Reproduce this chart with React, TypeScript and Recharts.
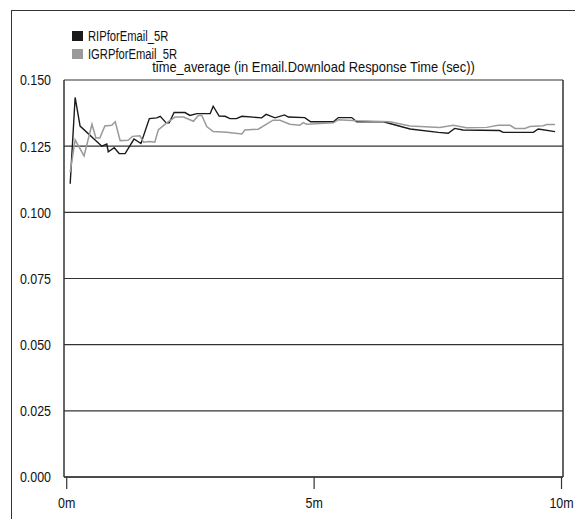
import React from 'react';
import { LineChart, Line, XAxis, YAxis, CartesianGrid, ReferenceLine } from 'recharts';

// time in minutes, response time in seconds
const ripMinutes = [
  0.07, 0.17, 0.27, 0.71, 0.81, 0.84, 0.96, 1.06, 1.18, 1.36, 1.5, 1.67, 1.82, 1.89, 2.01, 2.07, 2.17,
  2.39, 2.49, 2.63, 2.9, 2.96, 3.08, 3.2, 3.3, 3.43, 3.54, 3.94, 4.03, 4.21, 4.4, 4.48, 4.81, 4.93,
  5.39, 5.49, 5.76, 5.86, 6.4, 6.94, 7.51, 7.71, 7.84, 8.01, 8.75, 8.82, 9.43, 9.53, 9.87,
];
const ripSeconds = [
  0.1108, 0.1434, 0.1326, 0.125, 0.1258, 0.1229, 0.1244, 0.1222, 0.1222, 0.1277, 0.126, 0.1354, 0.1357,
  0.1363, 0.1338, 0.1338, 0.1377, 0.1377, 0.1366, 0.1373, 0.1373, 0.1401, 0.1364, 0.1363, 0.1354,
  0.1354, 0.1363, 0.1357, 0.137, 0.1357, 0.1368, 0.136, 0.1358, 0.1342, 0.1342, 0.1358, 0.1358,
  0.1342, 0.1342, 0.1315, 0.1302, 0.1299, 0.1317, 0.1311, 0.1309, 0.1302, 0.1302, 0.1315, 0.1305,
];

const igrpMinutes = [
  0.07, 0.17, 0.35, 0.51, 0.59, 0.67, 0.77, 0.91, 0.98, 1.08, 1.24, 1.33, 1.48, 1.55, 1.68, 1.78, 1.85,
  2.02, 2.19, 2.36, 2.56, 2.66, 2.73, 2.83, 2.96, 3.23, 3.54, 3.6, 3.87, 4.17, 4.31, 4.51, 4.71, 4.78,
  4.85, 5.39, 5.49, 5.86, 6.53, 6.94, 7.54, 7.81, 8.08, 8.49, 8.72, 8.96, 9.06, 9.26, 9.36, 9.63, 9.7,
  9.87,
];
const igrpSeconds = [
  0.1152, 0.1274, 0.1213, 0.1333, 0.1281, 0.1281, 0.1326, 0.1329, 0.1342, 0.1271, 0.1272, 0.1287,
  0.1289, 0.1265, 0.1268, 0.1265, 0.1311, 0.1338, 0.136, 0.136, 0.1344, 0.1366, 0.1366, 0.1324,
  0.1305, 0.1303, 0.1296, 0.1311, 0.1314, 0.1348, 0.1348, 0.1333, 0.1329, 0.1339, 0.1333, 0.1338,
  0.135, 0.1346, 0.1342, 0.1326, 0.1321, 0.1329, 0.132, 0.1321, 0.1329, 0.1329, 0.1317, 0.1317,
  0.1324, 0.1327, 0.1332, 0.1332,
];

const seriesNames = ['RIPforEmail_5R', 'IGRPforEmail_5R'];
const seriesColors = ['#1a1a1a', '#9a9a9a'];
const yTicks = [0, 0.025, 0.05, 0.075, 0.1, 0.125, 0.15];
const xTicks = [0, 5, 10];

const ripData = ripMinutes.map((t, i) => ({ t, v: ripSeconds[i] }));
const igrpData = igrpMinutes.map((t, i) => ({ t, v: igrpSeconds[i] }));

const FONT = '"Liberation Sans", Arial, sans-serif';
const X_MIN = -0.055;
const X_MAX = 10.03;

// the original uses a narrow face, so squeeze the regular one
const YTick = ({ x, y, payload }: any) => (
  <g transform={`translate(${x},${y})`}>
    <text transform="scale(0.83,1)" textAnchor="end" dy="0.36em" fontSize={15} fontFamily={FONT} fill="#111">
      {payload.value.toFixed(3)}
    </text>
  </g>
);

const XTick = ({ x, y, payload }: any) => (
  <g transform={`translate(${x},${y})`}>
    <text transform="scale(0.83,1)" textAnchor="middle" dy="0.71em" fontSize={15} fontFamily={FONT} fill="#111">
      {`${payload.value}m`}
    </text>
  </g>
);

export default function App() {
  return (
    <div style={{ position: 'fixed', left: 0, top: 0, width: 575, height: 519, overflow: 'hidden', background: '#fff' }}>
      <div
        style={{
          position: 'absolute',
          left: 11,
          top: 10,
          width: 700,
          height: 700,
          border: '1.5px solid #333',
          boxSizing: 'border-box',
        }}
      />
      <div style={{ position: 'absolute', left: 72, top: 27, fontFamily: FONT, fontSize: 14, color: '#111', lineHeight: '18px' }}>
        {seriesNames.map((name, i) => (
          <div key={name} style={{ display: 'flex', alignItems: 'center' }}>
            <span style={{ width: 11, height: 10, background: seriesColors[i], marginRight: 5, display: 'inline-block' }} />
            <span style={{ display: 'inline-block', transform: 'scaleX(0.8)', transformOrigin: 'left center' }}>{name}</span>
          </div>
        ))}
      </div>
      <div
        style={{
          position: 'absolute',
          left: 64,
          width: 499,
          top: 58,
          textAlign: 'center',
          fontFamily: FONT,
          fontSize: 15,
          color: '#111',
          transform: 'scaleX(0.86)',
        }}
      >
        time_average (in Email.Download Response Time (sec))
      </div>
      <LineChart width={575} height={519} margin={{ top: 80, right: 12, bottom: 12, left: 0 }}>
        <CartesianGrid vertical={false} stroke="#333" strokeWidth={1.2} />
        <XAxis
          dataKey="t"
          type="number"
          domain={[X_MIN, X_MAX]}
          ticks={xTicks}
          allowDataOverflow
          height={30}
          tickSize={12}
          tickMargin={8}
          axisLine={{ stroke: '#333', strokeWidth: 1.5 }}
          tickLine={{ stroke: '#333', strokeWidth: 1.2 }}
          tick={<XTick />}
        />
        <YAxis
          type="number"
          domain={[0, 0.15]}
          ticks={yTicks}
          width={64}
          axisLine={{ stroke: '#333', strokeWidth: 1.5 }}
          tickLine={false}
          tickMargin={7}
          tick={<YTick />}
        />
        <ReferenceLine x={X_MAX} stroke="#333" strokeWidth={1.5} />
        <Line
          data={ripData}
          dataKey="v"
          name={seriesNames[0]}
          stroke={seriesColors[0]}
          strokeWidth={1.4}
          dot={false}
          type="linear"
          isAnimationActive={false}
        />
        <Line
          data={igrpData}
          dataKey="v"
          name={seriesNames[1]}
          stroke={seriesColors[1]}
          strokeWidth={1.5}
          dot={false}
          type="linear"
          isAnimationActive={false}
        />
      </LineChart>
    </div>
  );
}
